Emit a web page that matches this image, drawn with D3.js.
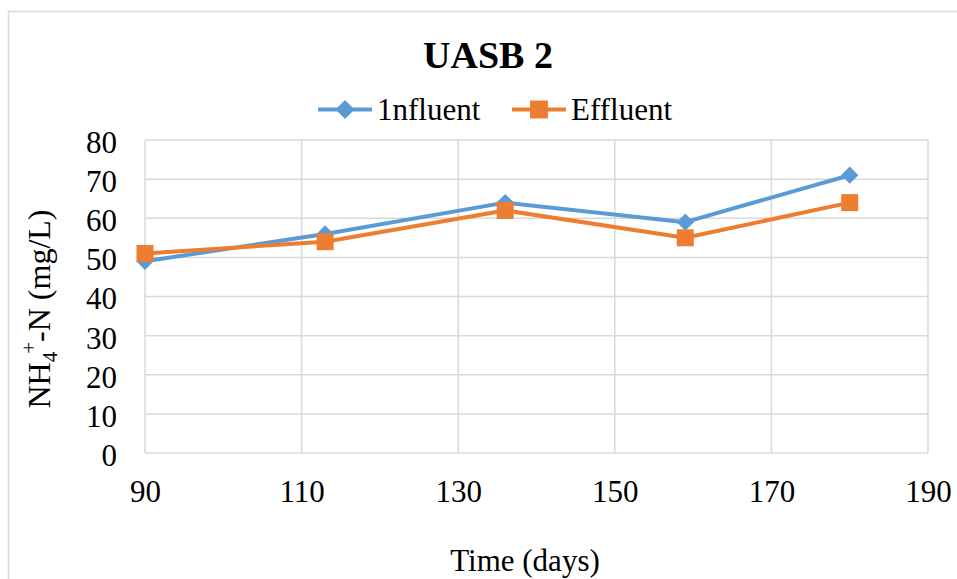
<!DOCTYPE html>
<html>
<head>
<meta charset="utf-8">
<script src="https://cdn.jsdelivr.net/npm/d3@7"></script>
<style>
  body { margin: 0; background: #fff; }
</style>
</head>
<body>
<svg width="957" height="579"></svg>
<script>
// data
var days = [90, 113, 136, 159, 180];
var influent = [49, 56, 64, 59, 71];
var effluent = [51, 54, 62, 55, 64];
var xTicks = [90, 110, 130, 150, 170, 190];
var yTicks = [0, 10, 20, 30, 40, 50, 60, 70, 80];

var serif = "'Liberation Serif'";

var svg = d3.select("svg");
var margin = { top: 140, right: 29, bottom: 126, left: 145 };
var width = 957 - margin.left - margin.right;
var height = 579 - margin.top - margin.bottom;

// outer chart frame
svg.append("rect")
  .attr("x", 8.5).attr("y", 11.5)
  .attr("width", 1000).attr("height", 1000)
  .attr("fill", "none").attr("stroke", "#d9d9d9").attr("stroke-width", 1.5);

var x = d3.scaleLinear().domain([90, 190]).range([0, width]);
var y = d3.scaleLinear().domain([0, 80]).range([height, 0]);

var g = svg.append("g").attr("transform", "translate(" + margin.left + "," + margin.top + ")");

// grid lines
g.append("g")
  .selectAll("line")
  .data(yTicks)
  .enter().append("line")
  .attr("x1", 0).attr("x2", width)
  .attr("y1", function(d) { return y(d); })
  .attr("y2", function(d) { return y(d); })
  .attr("stroke", "#d9d9d9").attr("stroke-width", 1.5);

g.append("g")
  .selectAll("line")
  .data(xTicks)
  .enter().append("line")
  .attr("y1", 0).attr("y2", height)
  .attr("x1", function(d) { return x(d); })
  .attr("x2", function(d) { return x(d); })
  .attr("stroke", "#d9d9d9").attr("stroke-width", 1.5);

// axes (labels only)
var xAxis = g.append("g")
  .attr("transform", "translate(0," + height + ")")
  .call(d3.axisBottom(x).tickValues(xTicks).tickSize(0).tickPadding(27));
xAxis.attr("font-family", serif).attr("font-size", 31);
xAxis.select(".domain").remove();
xAxis.selectAll("text").style("font-size", "31px").style("font-family", serif).attr("fill", "#000");

var yAxis = g.append("g")
  .call(d3.axisLeft(y).tickValues(yTicks).tickSize(0).tickPadding(28));
yAxis.attr("font-family", serif).attr("font-size", 31);
yAxis.select(".domain").remove();
yAxis.selectAll("text").style("font-size", "31px").style("font-family", serif)
  .attr("fill", "#000").attr("dy", "0.4em");

// lines
var line = d3.line()
  .x(function(d, i) { return x(days[i]); })
  .y(function(d) { return y(d); });

// diamonds are squares turned 45 degrees
var series = [
  { name: "1nfluent", values: influent, color: "#5b9bd5", rotate: 45, size: 150, legendSize: 180 },
  { name: "Effluent", values: effluent, color: "#ed7d31", rotate: 0, size: 289, legendSize: 320 }
];

series.forEach(function(s) {
  g.append("path")
    .datum(s.values)
    .attr("fill", "none")
    .attr("stroke", s.color)
    .attr("stroke-width", 4)
    .attr("stroke-linejoin", "round")
    .attr("d", line);
});

series.forEach(function(s) {
  g.selectAll(null)
    .data(s.values)
    .enter().append("path")
    .attr("d", d3.symbol().type(d3.symbolSquare).size(s.size))
    .attr("fill", s.color)
    .attr("transform", function(d, i) {
      return "translate(" + x(days[i]) + "," + y(d) + ") rotate(" + s.rotate + ")";
    });
});

// title
svg.append("text")
  .attr("x", 488).attr("y", 68)
  .attr("text-anchor", "middle")
  .style("font-family", serif)
  .style("font-size", "38px").style("font-weight", "bold")
  .text("UASB 2");

// legend
var legendX = [318, 512];
var legend = svg.selectAll(".legend")
  .data(series)
  .enter().append("g")
  .attr("class", "legend")
  .attr("transform", function(d, i) { return "translate(" + legendX[i] + ",109.5)"; });

legend.append("line")
  .attr("x1", 0).attr("x2", 54)
  .attr("stroke", function(d) { return d.color; })
  .attr("stroke-width", 4);

legend.append("path")
  .attr("d", function(d) { return d3.symbol().type(d3.symbolSquare).size(d.legendSize)(); })
  .attr("fill", function(d) { return d.color; })
  .attr("transform", function(d) { return "translate(27,0) rotate(" + d.rotate + ")"; });

legend.append("text")
  .attr("x", 59).attr("y", 10.5)
  .style("font-family", serif)
  .style("font-size", "31px")
  .text(function(d) { return d.name; });

// axis titles
svg.append("text")
  .attr("x", 525).attr("y", 571)
  .attr("text-anchor", "middle")
  .style("font-family", serif)
  .style("font-size", "31px")
  .text("Time (days)");

var yTitle = svg.append("text")
  .attr("transform", "translate(50,309) rotate(-90)")
  .attr("text-anchor", "middle")
  .style("font-family", serif)
  .style("font-size", "32px");
yTitle.append("tspan").text("NH");
yTitle.append("tspan").attr("dy", 7).style("font-size", "21px").text("4");
yTitle.append("tspan").attr("dx", -2).attr("dy", -21).style("font-size", "21px").text("+");
yTitle.append("tspan").attr("dy", 14).text("-N (mg/L)");
</script>
</body>
</html>
